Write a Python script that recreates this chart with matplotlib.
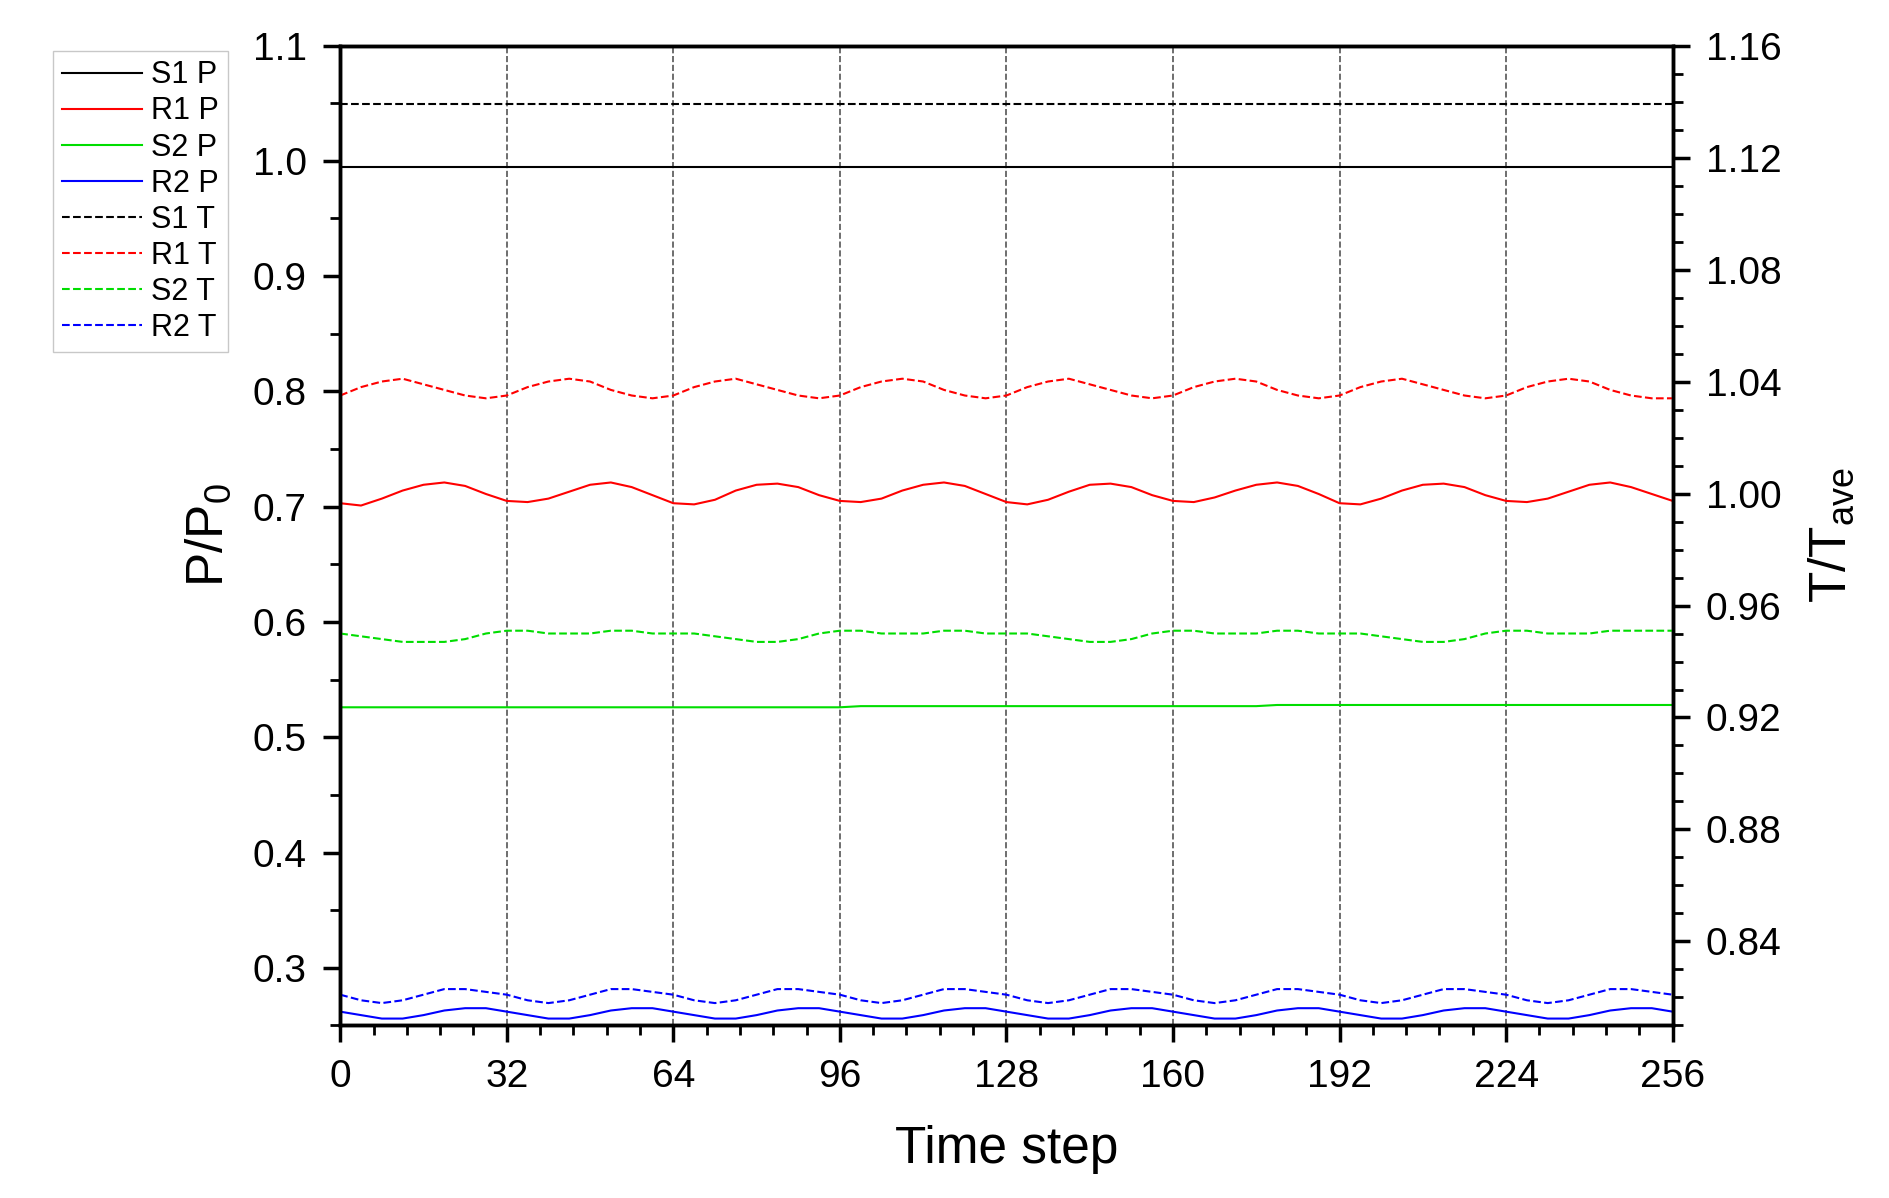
import numpy as np
import matplotlib.pyplot as plt
from matplotlib.ticker import MultipleLocator

plt.rcParams['font.family'] = ['Liberation Sans', 'DejaVu Sans']
plt.rcParams['mathtext.fontset'] = 'custom'
plt.rcParams['mathtext.rm'] = 'Liberation Sans'

# time steps, sampled every 4
t = np.arange(0, 257, 4)

# P/P0 (left axis)
s1_p = [0.995] * 65
r1_p = [0.703, 0.701, 0.707, 0.714, 0.719, 0.721, 0.718, 0.711,
        0.705, 0.704, 0.707, 0.713, 0.719, 0.721, 0.717, 0.710,
        0.703, 0.702, 0.706, 0.714, 0.719, 0.720, 0.717, 0.710,
        0.705, 0.704, 0.707, 0.714, 0.719, 0.721, 0.718, 0.711,
        0.704, 0.702, 0.706, 0.713, 0.719, 0.720, 0.717, 0.710,
        0.705, 0.704, 0.708, 0.714, 0.719, 0.721, 0.718, 0.711,
        0.703, 0.702, 0.707, 0.714, 0.719, 0.720, 0.717, 0.710,
        0.705, 0.704, 0.707, 0.713, 0.719, 0.721, 0.717, 0.711,
        0.705]
s2_p = [0.526] * 25 + [0.527] * 20 + [0.528] * 20
r2_p = [0.262, 0.259, 0.256, 0.256, 0.259, 0.263, 0.265, 0.265,
        0.262, 0.259, 0.256, 0.256, 0.259, 0.263, 0.265, 0.265,
        0.262, 0.259, 0.256, 0.256, 0.259, 0.263, 0.265, 0.265,
        0.262, 0.259, 0.256, 0.256, 0.259, 0.263, 0.265, 0.265,
        0.262, 0.259, 0.256, 0.256, 0.259, 0.263, 0.265, 0.265,
        0.262, 0.259, 0.256, 0.256, 0.259, 0.263, 0.265, 0.265,
        0.262, 0.259, 0.256, 0.256, 0.259, 0.263, 0.265, 0.265,
        0.262, 0.259, 0.256, 0.256, 0.259, 0.263, 0.265, 0.265,
        0.262]

# T/Tave (right axis)
s1_t = [1.139] * 65
r1_t = [1.035, 1.038, 1.040, 1.041, 1.039, 1.037, 1.035, 1.034,
        1.035, 1.038, 1.040, 1.041, 1.040, 1.037, 1.035, 1.034,
        1.035, 1.038, 1.040, 1.041, 1.039, 1.037, 1.035, 1.034,
        1.035, 1.038, 1.040, 1.041, 1.040, 1.037, 1.035, 1.034,
        1.035, 1.038, 1.040, 1.041, 1.039, 1.037, 1.035, 1.034,
        1.035, 1.038, 1.040, 1.041, 1.040, 1.037, 1.035, 1.034,
        1.035, 1.038, 1.040, 1.041, 1.039, 1.037, 1.035, 1.034,
        1.035, 1.038, 1.040, 1.041, 1.040, 1.037, 1.035, 1.034,
        1.034]
s2_t = [0.950, 0.949, 0.948, 0.947, 0.947, 0.947, 0.948, 0.950,
        0.951, 0.951, 0.950, 0.950, 0.950, 0.951, 0.951, 0.950,
        0.950, 0.950, 0.949, 0.948, 0.947, 0.947, 0.948, 0.950,
        0.951, 0.951, 0.950, 0.950, 0.950, 0.951, 0.951, 0.950,
        0.950, 0.950, 0.949, 0.948, 0.947, 0.947, 0.948, 0.950,
        0.951, 0.951, 0.950, 0.950, 0.950, 0.951, 0.951, 0.950,
        0.950, 0.950, 0.949, 0.948, 0.947, 0.947, 0.948, 0.950,
        0.951, 0.951, 0.950, 0.950, 0.950, 0.951, 0.951, 0.951,
        0.951]
r2_t = [0.821, 0.819, 0.818, 0.819, 0.821, 0.823, 0.823, 0.822,
        0.821, 0.819, 0.818, 0.819, 0.821, 0.823, 0.823, 0.822,
        0.821, 0.819, 0.818, 0.819, 0.821, 0.823, 0.823, 0.822,
        0.821, 0.819, 0.818, 0.819, 0.821, 0.823, 0.823, 0.822,
        0.821, 0.819, 0.818, 0.819, 0.821, 0.823, 0.823, 0.822,
        0.821, 0.819, 0.818, 0.819, 0.821, 0.823, 0.823, 0.822,
        0.821, 0.819, 0.818, 0.819, 0.821, 0.823, 0.823, 0.822,
        0.821, 0.819, 0.818, 0.819, 0.821, 0.823, 0.823, 0.822,
        0.821]

fig = plt.figure(figsize=(18.9, 11.98), dpi=100)
ax = fig.add_axes([0.18, 0.144, 0.705, 0.818])
ax2 = ax.twinx()

lw = 1.5
h = []
h += ax.plot(t, s1_p, color='black', lw=lw, label='S1 P')
h += ax.plot(t, r1_p, color='red', lw=lw, label='R1 P')
h += ax.plot(t, s2_p, color='#00dd00', lw=lw, label='S2 P')
h += ax.plot(t, r2_p, color='blue', lw=lw, label='R2 P')
h += ax2.plot(t, s1_t, color='black', lw=lw, ls='--', label='S1 T')
h += ax2.plot(t, r1_t, color='red', lw=lw, ls='--', label='R1 T')
h += ax2.plot(t, s2_t, color='#00dd00', lw=lw, ls='--', label='S2 T')
h += ax2.plot(t, r2_t, color='blue', lw=lw, ls='--', label='R2 T')

ax.set_xlim(0, 256)
ax.set_ylim(0.25, 1.1)
ax2.set_ylim(0.81, 1.16)
ax.set_xticks(np.arange(0, 257, 32))
ax.xaxis.set_minor_locator(MultipleLocator(6.4))
ax.set_yticks(np.arange(0.3, 1.11, 0.1))
ax.yaxis.set_minor_locator(MultipleLocator(0.05))
ax2.set_yticks(np.arange(0.84, 1.161, 0.04))
ax2.yaxis.set_minor_locator(MultipleLocator(0.01))
ax.set_yticklabels([f'{v:.1f}' for v in np.arange(0.3, 1.11, 0.1)])
ax2.set_yticklabels([f'{v:.2f}' for v in np.arange(0.84, 1.161, 0.04)])

ax.grid(axis='x', which='major', color='#555555', ls='--', lw=1.2)

for a in (ax, ax2):
    a.tick_params(which='major', direction='out', length=12, width=2.5,
                  labelsize=28, pad=12)
    a.tick_params(which='minor', direction='out', length=7, width=2)
    for s in a.spines.values():
        s.set_linewidth(2.5)

ax.set_xlabel('Time step', fontsize=37, labelpad=22)
ax.set_ylabel('P/P$_0$', fontsize=37, labelpad=14)
ax2.set_ylabel('T/T$_{\\mathrm{ave}}$', fontsize=37, labelpad=18)

fig.legend(handles=h, loc='upper left', bbox_to_anchor=(0.02, 0.97),
           fontsize=22, frameon=True, fancybox=False, edgecolor='#bbbbbb',
           handlelength=2.6, handletextpad=0.3, labelspacing=0.2,
           borderpad=0.3)

fig.savefig('out.png', dpi=100)
